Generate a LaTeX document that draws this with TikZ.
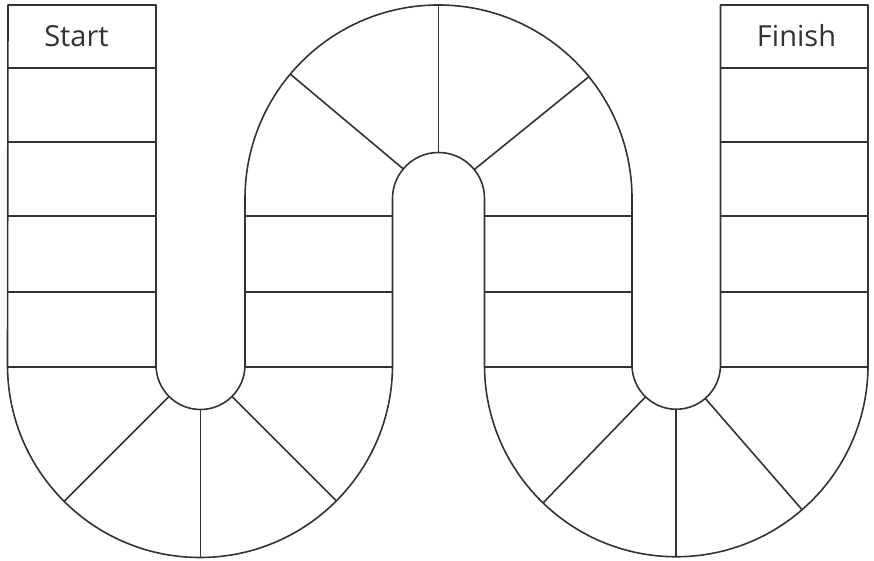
\documentclass[tikz,border=0pt]{standalone}
\usepackage{fontspec}
\setmainfont{Open Sans}
\usetikzlibrary{calc}
\begin{document}
\begin{tikzpicture}[x=1pt,y=1pt,
  board/.style={line width=1.6pt, draw=black!80, line join=round},
  label/.style={font=\fontsize{29}{32}\selectfont, text=black!80, inner sep=0pt}]
\useasboundingbox (0,0) rectangle (874,561);
% geometry
\def\yT{556}
\def\yB{196}
\def\yM{362.5}
% outline
\draw[board] (8,\yT) -- (156,\yT) -- (156,\yB)
  arc[start angle=180, end angle=360, radius=44.5] -- (245,\yM)
  arc[start angle=180, end angle=0, radius=193.5] -- (632,\yB)
  arc[start angle=180, end angle=360, radius=44.25] -- (720.5,\yT) -- (868,\yT) -- (868,\yB)
  arc[start angle=0, end angle=-180, radius=191.75] -- (484.5,\yM)
  arc[start angle=0, end angle=180, radius=46] -- (392.5,\yB)
  arc[start angle=0, end angle=-180, radius=192.5] -- cycle;
% horizontal dividers
\foreach \y in {493,419,345,269,194} {
  \draw[board] (8,\y) -- (156,\y);
  \draw[board] (720.5,\y) -- (868,\y);
}
\foreach \y in {345,269,194} {
  \draw[board] (245,\y) -- (392.5,\y);
  \draw[board] (484.5,\y) -- (632,\y);
}
% radial dividers
\foreach \a in {-135,-90,-45}
  \draw[board] ($(200.5,\yB)+(\a:44.5)$) -- ($(200.5,\yB)+(\a:192.5)$);
\foreach \a in {140,90,39}
  \draw[board] ($(438.5,\yM)+(\a:46)$) -- ($(438.5,\yM)+(\a:193.5)$);
\foreach \a in {-134,-90,-49}
  \draw[board] ($(676.25,\yB)+(\a:44.25)$) -- ($(676.25,\yB)+(\a:191.75)$);
% labels
\node[label] (start) at (76.5,525) {Start};
\node[label] (finish) at (796.5,525) {Finish};
\end{tikzpicture}
\end{document}
